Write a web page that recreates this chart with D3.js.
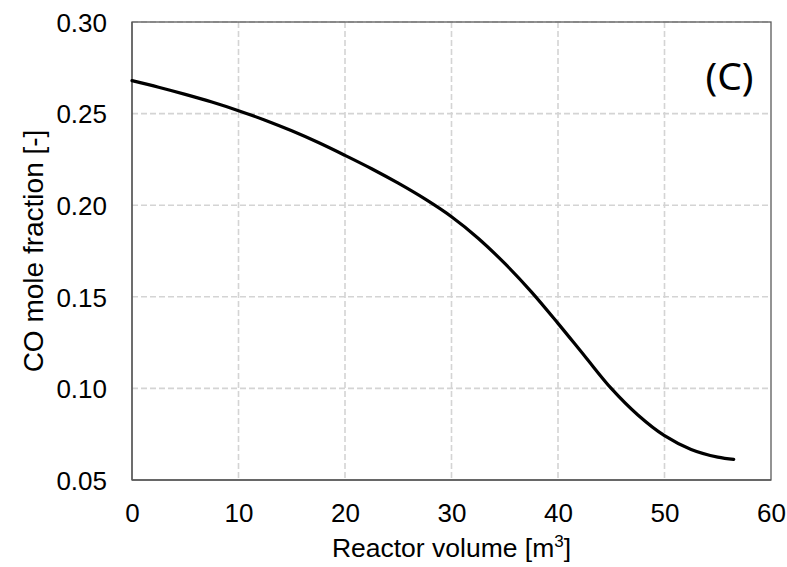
<!DOCTYPE html>
<html><head><meta charset="utf-8">
<script src="https://cdn.jsdelivr.net/npm/d3@7"></script>
<style>body{margin:0;background:#fff;} svg{display:block;}</style>
</head><body>
<script>
const volume = [0,2.5,5,7.5,10,12.5,15,17.5,20,22.5,25,27.5,30,32.5,35,37.5,40,42.5,45,47.5,50,52.5,55,56.5];
const coFraction = [0.2680,0.2644,0.2605,0.2563,0.2516,0.2464,0.2406,0.2342,0.2272,0.2199,0.2120,0.2034,0.1937,0.1820,0.1682,0.1527,0.1355,0.1177,0.1000,0.0855,0.0742,0.0667,0.0625,0.0613];
const xTicks = [0,10,20,30,40,50,60];
const yTicks = [0.05,0.10,0.15,0.20,0.25,0.30];
const xLabel = "Reactor volume [m";
const yLabel = "CO mole fraction [-]";
const panelLabel = "(C)";

const W=787,H=567;
const m={left:132,right:16,top:22,bottom:87};
const svg=d3.select("body").append("svg").attr("width",W).attr("height",H);
const x=d3.scaleLinear().domain([0,60]).range([m.left,W-m.right]);
const y=d3.scaleLinear().domain([0.05,0.30]).range([H-m.bottom,m.top]);
const font="'Liberation Sans', Arial, sans-serif";

const grid=svg.append("g").attr("stroke","#d4d4d4").attr("stroke-width",1.6).attr("stroke-dasharray","6,3");
grid.selectAll("line.v").data(xTicks.slice(1,-1)).join("line")
  .attr("x1",d=>x(d)).attr("x2",d=>x(d)).attr("y1",y(0.30)).attr("y2",y(0.05));
grid.selectAll("line.h").data(yTicks.slice(1,-1)).join("line")
  .attr("y1",d=>y(d)).attr("y2",d=>y(d)).attr("x1",x(0)).attr("x2",x(60));
grid.append("line").attr("y1",y(0.30)).attr("y2",y(0.30)).attr("x1",x(0)).attr("x2",x(60));

svg.append("rect").attr("x",x(0)).attr("y",y(0.30)).attr("width",x(60)-x(0)).attr("height",y(0.05)-y(0.30))
  .attr("fill","none").attr("stroke","#595959").attr("stroke-width",1.3);
svg.append("line").attr("x1",x(0)).attr("x2",x(60)).attr("y1",y(0.05)).attr("y2",y(0.05)).attr("stroke","#595959").attr("stroke-width",1.3);
svg.append("line").attr("x1",x(0)).attr("x2",x(0)).attr("y1",y(0.05)).attr("y2",y(0.30)).attr("stroke","#595959").attr("stroke-width",1.3);

const xAxis=d3.axisBottom(x).tickValues(xTicks).tickFormat(d3.format("d")).tickSize(0).tickPadding(0);
const gx=svg.append("g").attr("transform",`translate(0,${y(0.05)})`).call(xAxis);
gx.select(".domain").remove();
gx.selectAll("text").attr("font-family",font).attr("font-size",26).attr("fill","#000").attr("dy",null).attr("y",42);

const yAxis=d3.axisLeft(y).tickValues(yTicks).tickFormat(d3.format(".2f")).tickSize(0).tickPadding(0);
const gy=svg.append("g").attr("transform",`translate(107,0)`).call(yAxis);
gy.select(".domain").remove();
gy.selectAll("text").attr("font-family",font).attr("font-size",26).attr("fill","#000").attr("dy","0.36em");

const line=d3.line().x((d,i)=>x(volume[i])).y(d=>y(d)).curve(d3.curveCatmullRom.alpha(0.5));
svg.append("path").datum(coFraction).attr("d",line).attr("fill","none").attr("stroke","#000").attr("stroke-width",3.2).attr("stroke-linecap","round");

const xt=svg.append("text").attr("x",(x(0)+x(60))/2).attr("y",557).attr("text-anchor","middle")
  .attr("font-family",font).attr("font-size",26.5).attr("fill","#000");
xt.append("tspan").text(xLabel);
xt.append("tspan").attr("font-size",17).attr("dy",-10).text("3");
xt.append("tspan").attr("dy",10).text("]");

svg.append("text").attr("transform",`translate(43,251) rotate(-90)`).attr("text-anchor","middle")
  .attr("font-family",font).attr("font-size",28).attr("fill","#000").text(yLabel);

svg.append("text").attr("x",729.5).attr("y",90).attr("text-anchor","middle")
  .attr("font-family","'Noto Sans', 'Open Sans', sans-serif").attr("font-size",39).attr("fill","#000").text(panelLabel);
</script>
</body></html>
